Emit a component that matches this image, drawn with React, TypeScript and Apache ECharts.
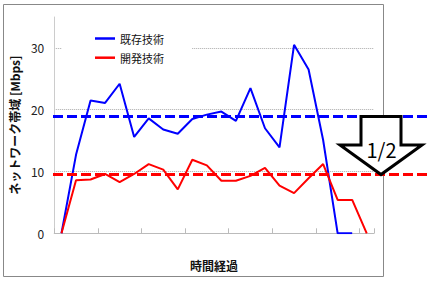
import React, { useEffect, useRef } from "react";
import * as echarts from "echarts";

const categories = ["0","1","2","3","4","5","6","7","8","9","10","11","12","13","14","15","16","17","18","19","20","21"];
const existingTech = [0, 12.7, 21.5, 21.1, 24.2, 15.6, 18.6, 16.8, 16.1, 18.5, 19.2, 19.7, 18.2, 23.5, 17.0, 13.9, 30.5, 26.5, 15.1, 0, 0, null];
const newTech = [0, 8.6, 8.7, 9.6, 8.3, 9.6, 11.2, 10.3, 7.1, 11.9, 11.0, 8.5, 8.5, 9.3, 10.6, 7.7, 6.5, 8.9, 11.2, 5.4, 5.4, 0];
const seriesNames = ["既存技術", "開発技術"];
const averages = [18.9, 9.5];
const yTicks = { min: 0, max: 35, interval: 10 };
const arrowLabel = "1/2";

const FONT = '"Noto Sans CJK JP", "Noto Sans", sans-serif';

export default function App() {
  const ref = useRef<HTMLDivElement>(null);
  useEffect(() => {
    if (!ref.current) return;
    const chart = echarts.init(ref.current, undefined, { renderer: "svg" });
    const gridLeft = 53;
    chart.setOption({
      animation: false,
      textStyle: { fontFamily: FONT },
      grid: { left: gridLeft, right: 56, top: 17, bottom: 56.7 },
      legend: {
        orient: "vertical",
        left: 62,
        top: 26.5,
        padding: [6.5, 28, 6, 33],
        backgroundColor: "#fff",
        icon: "rect",
        itemWidth: 20,
        itemHeight: 2.5,
        itemGap: 8.2,
        textStyle: { fontSize: 11, color: "#111", fontFamily: FONT },
        data: seriesNames,
      },
      xAxis: {
        type: "category",
        data: categories,
        boundaryGap: true,
        name: "時間経過",
        nameLocation: "middle",
        nameGap: 26,
        nameTextStyle: { fontSize: 12, fontWeight: "bold", color: "#111", fontFamily: FONT },
        axisLine: { lineStyle: { color: "#bbb", width: 1 } },
        axisTick: { show: true, inside: true, length: 5, interval: 2, lineStyle: { color: "#bbb" } },
        axisLabel: { show: false },
        splitLine: { show: false },
      },
      yAxis: {
        type: "value",
        min: yTicks.min,
        max: yTicks.max,
        interval: yTicks.interval,
        name: "ネットワーク帯域 [Mbps]",
        nameLocation: "middle",
        nameGap: 27,
        nameTextStyle: { fontSize: 12, fontWeight: "bold", color: "#111", fontFamily: FONT },
        axisLine: { show: true, lineStyle: { color: "#ccc", width: 1 } },
        axisTick: { show: false },
        axisLabel: {
          fontSize: 12,
          color: "#222",
          margin: 10,
          showMaxLabel: false,
          formatter: (v: number) => (v % yTicks.interval === 0 ? String(v) : ""),
        },
        splitLine: {
          show: true,
          showMinLine: false,
          showMaxLine: false,
          lineStyle: { type: "dotted", color: "#aaa", width: 1 },
        },
      },
      series: [
        {
          name: seriesNames[0],
          type: "line",
          data: existingTech,
          symbol: "none",
          connectNulls: false,
          lineStyle: { color: "#0000ff", width: 2 },
          itemStyle: { color: "#0000ff" },
        },
        {
          name: seriesNames[1],
          type: "line",
          data: newTech,
          symbol: "none",
          lineStyle: { color: "#ff0000", width: 2 },
          itemStyle: { color: "#ff0000" },
        },
      ],
    });

    const yBlue = chart.convertToPixel({ yAxisIndex: 0 }, averages[0]) as number;
    const yRed = chart.convertToPixel({ yAxisIndex: 0 }, averages[1]) as number;
    const shaftBottom = yBlue + 0.49 * (yRed - yBlue);
    const tipX = 381;

    chart.setOption({
      graphic: [
        {
          type: "rect",
          shape: { x: 3.5, y: 4.5, width: 380, height: 272 },
          style: { fill: "none", stroke: "#888", lineWidth: 1 },
          silent: true,
          z: 1,
        },
        {
          type: "line",
          shape: { x1: gridLeft, y1: yBlue, x2: 430, y2: yBlue },
          style: { stroke: "#0000ff", lineWidth: 3, lineDash: [10, 4] },
          z: 10,
        },
        {
          type: "line",
          shape: { x1: gridLeft, y1: yRed, x2: 430, y2: yRed },
          style: { stroke: "#ff0000", lineWidth: 3, lineDash: [10, 4] },
          z: 10,
        },
        {
          type: "polygon",
          shape: {
            points: [
              [361, yBlue],
              [401, yBlue],
              [401, shaftBottom],
              [422, shaftBottom],
              [tipX, yRed],
              [340, shaftBottom],
              [361, shaftBottom],
            ],
          },
          style: { fill: "#fff", stroke: "#000", lineWidth: 3, lineJoin: "miter" },
          z: 20,
        },
        {
          type: "text",
          x: tipX + 0.5,
          y: 149.5,
          style: {
            text: arrowLabel,
            fontSize: 20,
            fontFamily: FONT,
            fill: "#000",
            align: "center",
            verticalAlign: "middle",
          },
          z: 21,
        },
      ],
    });

    return () => chart.dispose();
  }, []);
  return (
    <div
      ref={ref}
      style={{ position: "fixed", left: 0, top: 0, width: 430, height: 290, background: "#fff" }}
    />
  );
}
